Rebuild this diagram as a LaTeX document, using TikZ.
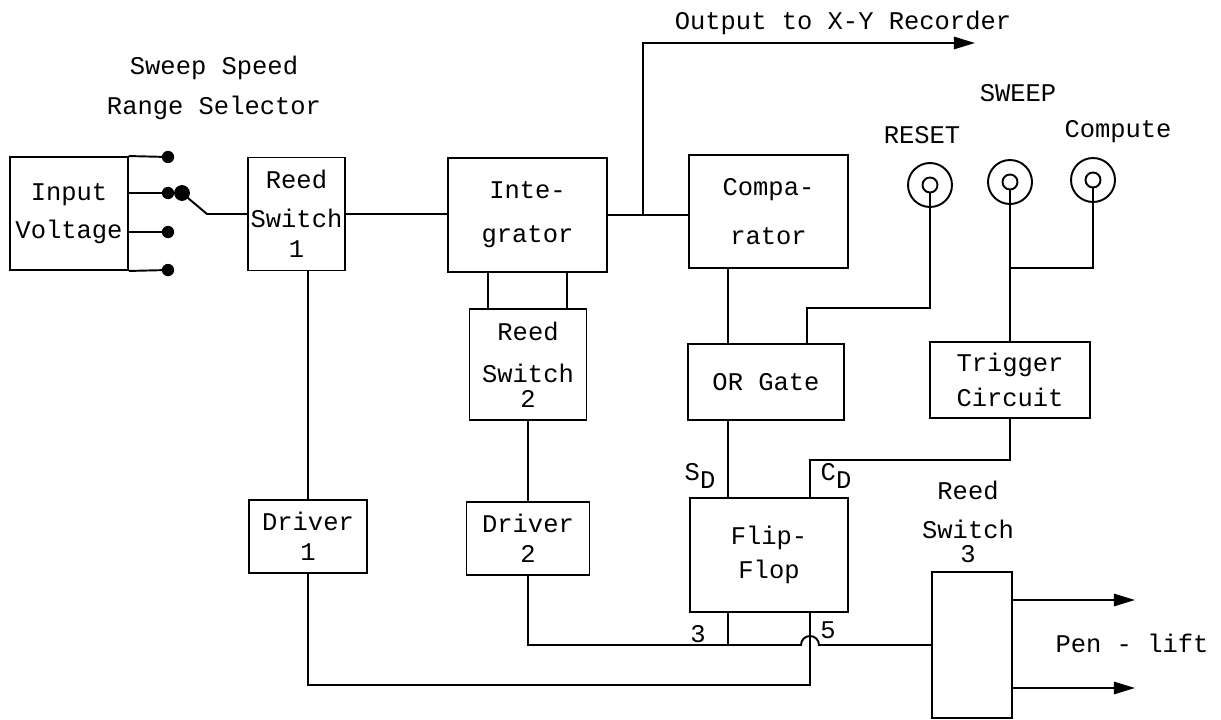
\documentclass[tikz,border=0pt]{standalone}
\usepackage{fontspec}
\setmonofont{Liberation Mono}
\usetikzlibrary{arrows.meta}

\begin{document}
\begin{tikzpicture}[x=0.02cm, y=-0.02cm, line width=1.1pt,
    font=\ttfamily\fontsize{14.5}{17}\selectfont,
    blk/.style={draw, align=center, inner sep=0pt},
    dot/.style={circle, fill, inner sep=0pt, minimum size=7pt},
    jack/.style={circle, draw, inner sep=0pt, minimum size=0.88cm},
    jackin/.style={circle, draw, fill=white, inner sep=0pt, minimum size=0.3cm},
    >={Triangle[length=12pt, width=7pt]}]
    \useasboundingbox (0,0) rectangle (1221,720);
    % Blocks
    \node[blk, minimum width=2.36cm, minimum height=2.26cm] (inp) at (69,213.5) {Input\\[5pt]Voltage};
    \node[blk, minimum width=1.94cm, minimum height=2.26cm] (rs1) at (296.5,214) {Reed\\[5pt]Switch\\1};
    \node[blk, minimum width=3.18cm, minimum height=2.28cm] (integ) at (527.5,215) {Inte-\\[8pt]grator};
    \node[blk, minimum width=3.18cm, minimum height=2.26cm] (comp) at (768.5,211.5) {Compa-\\[11pt]rator};
    \node[blk, minimum width=2.34cm, minimum height=2.22cm] (rs2) at (528,364.5) {Reed\\[7pt]Switch\\[-3pt]2};
    \node[blk, minimum width=3.12cm, minimum height=1.52cm] (orgate) at (766,382) {OR Gate};
    \node[blk, minimum width=3.2cm, minimum height=1.52cm] (trig) at (1010,380) {Trigger\\[3pt]Circuit};
    \node[blk, minimum width=3.16cm, minimum height=2.28cm] (ff) at (769,555) {Flip-\\[2pt]Flop};
    \node[blk, minimum width=2.36cm, minimum height=1.46cm] (drv1) at (308,536.5) {Driver\\1};
    \node[blk, minimum width=2.46cm, minimum height=1.46cm] (drv2) at (528,538.5) {Driver\\2};
    \node[blk, minimum width=1.6cm, minimum height=2.92cm] (rs3) at (972,645) {};
    % Sweep jacks
    \node[jack] (reset) at (930,185) {};
    \node[jackin] (reseti) at (reset) {};
    \node[jack] (sweep) at (1010,182) {};
    \node[jackin] (sweepi) at (sweep) {};
    \node[jack] (compj) at (1093,180) {};
    \node[jackin] (compi) at (compj) {};
    % Range selector terminals
    \node[dot] (t1) at (168,157) {};
    \node[dot] (t2) at (168,193) {};
    \node[dot] (t3) at (168,232) {};
    \node[dot] (t4) at (168,270) {};
    \node[dot, minimum size=9pt] (wip) at (182,193) {};
    % Helper positions
    \coordinate (xa) at (488,0);
    \coordinate (xb) at (567,0);
    \coordinate (xq) at (643,0);
    \coordinate (xs) at (728,0);
    \coordinate (xo) at (807,0);
    \coordinate (xc) at (810,0);
    \coordinate (outend) at (975,43);
    \coordinate (pa) at (1135,600);
    \coordinate (pb) at (1135,688);
    % Labels
    \node[align=center] (sslbl) at (214,88) {Sweep Speed\\[6pt]Range Selector};
    \node[anchor=west] (outlbl) at (668,23) {Output to X-Y Recorder};
    \node (swlbl) at (1018,93) {SWEEP};
    \node (rstlbl) at (922,135) {RESET};
    \node (cmplbl) at (1118,132) {Compute};
    \node (sdlbl) at (700,476) {S\raisebox{-5pt}{D}};
    \node (cdlbl) at (836,476) {C\raisebox{-5pt}{D}};
    \node (qlbl) at (698,634) {3};
    \node (qblbl) at (828,630) {5};
    \node[align=center] (rs3lbl) at (968,522) {Reed\\[5pt]Switch\\[-3pt]3};
    \node (penlbl) at (1132,643) {Pen - lift};
    % Selector
    \draw (inp.north east) -- (t1.center);
    \draw (inp.east |- t2) -- (t2.center);
    \draw (inp.east |- t3) -- (t3.center);
    \draw (inp.south east) -- (t4.center);
    \draw (wip.center) -- (207,214) -- (rs1.west);
    % Signal path
    \draw (rs1.east) -- (integ.west |- rs1.east);
    \draw (integ.east) -- (comp.west |- integ.east);
    \draw[->] (xq |- integ.east) -- (xq |- outend) -- (outend);
    \draw (xa |- integ.south) -- (xa |- rs2.north);
    \draw (xb |- integ.south) -- (xb |- rs2.north);
    \draw (drv1.north |- rs1.south) -- (drv1.north);
    \draw (rs2.south) -- (drv2.north);
    \draw (xs |- comp.south) -- (xs |- orgate.north);
    \draw (xs |- orgate.south) -- (xs |- ff.north);
    % Sweep control
    \draw (reseti.south) |- (xo |- 0,308) -- (xo |- orgate.north);
    \draw (sweepi.south) -- (1010,268) -| (compi.south);
    \draw (1010,268) -- (trig.north);
    \draw (trig.south) |- (xc |- 0,460) -- (xc |- ff.north);
    % Driver returns
    \draw (drv1.south) |- (xc |- 0,685) -- (xc |- ff.south);
    \draw (drv2.south) |- (801,645) arc[start angle=180, end angle=360, radius=9] -- (rs3.west);
    \draw (xs |- ff.south) -- (xs |- 0,645);
    % Pen-lift outputs
    \draw[->] (rs3.east |- pa) -- (pa);
    \draw[->] (rs3.east |- pb) -- (pb);
\end{tikzpicture}
\end{document}
